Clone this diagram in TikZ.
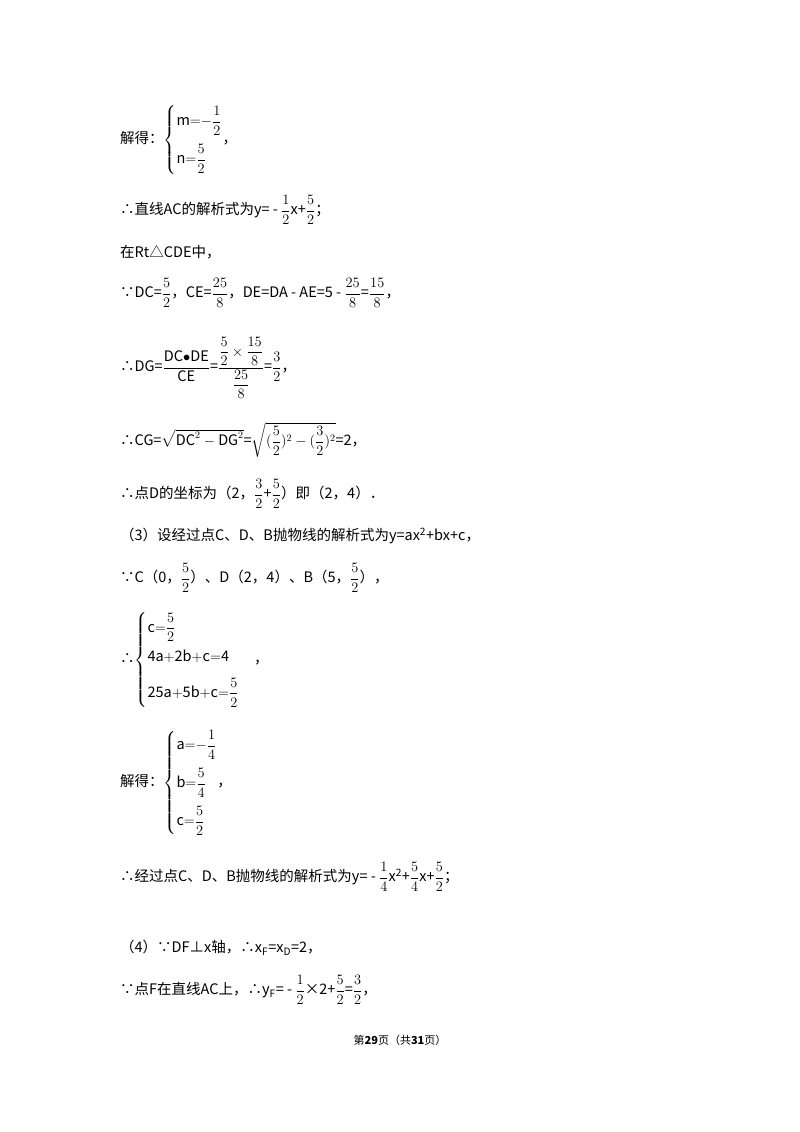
\documentclass[tikz,border=0pt]{standalone}
\usepackage{amsmath}
\usepackage{fontspec}
\setmainfont{Noto Sans CJK SC}
\newcommand{\fr}[2]{\dfrac{#1}{#2}}
\begin{document}
\begin{tikzpicture}[x=1pt,y=-1pt,t/.style={anchor=west,inner sep=0pt,font=\fontsize{14.5}{17}\selectfont}]
\useasboundingbox[fill=white] (0,0) rectangle (800,1132);
\node[t] (l1) at (120,140) {解得：$\left\{\begin{array}{@{}l@{}}\mathrm{m}{=}{-}\fr{1}{2}\\[14pt] \mathrm{n}{=}\fr{5}{2}\end{array}\right.$，};
\node[t] (l2) at (120,210) {∴直线AC的解析式为y= - $\fr{1}{2}$x+$\fr{5}{2}$；};
\node[t] (l3) at (120,252) {在Rt△CDE中，};
\node[t] (l4) at (120,293) {∵DC=$\fr{5}{2}$，CE=$\fr{25}{8}$，DE=DA - AE=5 - $\fr{25}{8}$=$\fr{15}{8}$，};
\node[t] (l5) at (120,368) {∴DG=$\dfrac{\mathrm{DC}{\bullet}\mathrm{DE}}{\mathrm{CE}}$=$\dfrac{\dfrac{5}{2}\times\dfrac{15}{8}}{\dfrac{25}{8}}$=$\fr{3}{2}$，};
\node[t] (l6) at (120,440) {∴CG=$\sqrt{\mathrm{DC}^2-\mathrm{DG}^2}$=$\sqrt{(\fr{5}{2})^2-(\fr{3}{2})^2}$=2，};
\node[t] (l7) at (120,494) {∴点D的坐标为（2，$\fr{3}{2}$+$\fr{5}{2}$）即（2，4）．};
\node[t] (l8) at (120,536) {（3）设经过点C、D、B抛物线的解析式为y=ax\textsuperscript{2}+bx+c，};
\node[t] (l9) at (120,578) {∵C（0，$\fr{5}{2}$）、D（2，4）、B（5，$\fr{5}{2}$），};
\node[t] (l10) at (120,660) {∴$\left\{\begin{array}{@{}l@{}}\mathrm{c}{=}\fr{5}{2}\\[12pt] \mathrm{4a{+}2b{+}c{=}4}\\[12pt] \mathrm{25a{+}5b{+}c}{=}\fr{5}{2}\end{array}\right.$\quad，};
\node[t] (l11) at (120,783) {解得：$\left\{\begin{array}{@{}l@{}}\mathrm{a}{=}{-}\fr{1}{4}\\[14pt] \mathrm{b}{=}\fr{5}{4}\\[14pt] \mathrm{c}{=}\fr{5}{2}\end{array}\right.$，};
\node[t] (l12) at (120,877) {∴经过点C、D、B抛物线的解析式为y= - $\fr{1}{4}$x\textsuperscript{2}+$\fr{5}{4}$x+$\fr{5}{2}$；};
\node[t] (l13) at (120,948) {（4）∵DF⊥x轴，∴x\textsubscript{F}=x\textsubscript{D}=2，};
\node[t] (l14) at (120,990) {∵点F在直线AC上，∴y\textsubscript{F}= - $\fr{1}{2}$×2+$\fr{5}{2}$=$\fr{3}{2}$，};
\node[inner sep=0pt,font=\fontsize{11}{13}\selectfont] (ft) at (400,1040) {第\textbf{29}页（共\textbf{31}页）};
\end{tikzpicture}
\end{document}
